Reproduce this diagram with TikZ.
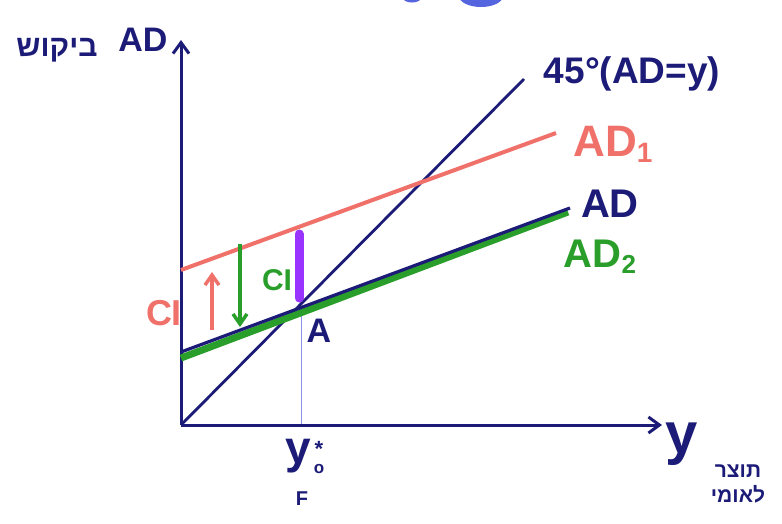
\documentclass[tikz,border=0pt]{standalone}
\usepackage{fontspec}
\setmainfont{Liberation Sans}
\newfontfamily\hebfont[Script=Hebrew]{Liberation Sans}
\TeXXeTstate=1
\usetikzlibrary{arrows.meta}
\definecolor{navy}{HTML}{1C1C78}
\definecolor{salmon}{HTML}{F0706A}
\definecolor{grn}{HTML}{2A9E2A}
\definecolor{purp}{HTML}{9933FF}
\definecolor{blob}{HTML}{5565E0}
\newcommand{\fsz}[1]{\fontsize{#1}{#1}\selectfont\bfseries}
\begin{document}
\begin{tikzpicture}[x=1pt,y=-1pt,
  axis/.style={navy,line width=3pt,-{Straight Barb[length=11pt,width=16pt]}},
  lbl/.style={inner sep=0pt,anchor=center},
  ciarrow/.style={-{Straight Barb[length=10pt,width=14pt]}}]
\useasboundingbox (0,0) rectangle (782,523);
\fill[white] (0,0) rectangle (782,523);
% partial blobs at top edge
\fill[blob] (412,-2) ellipse (9pt and 4.5pt);
\fill[blob] (481,-4) ellipse (22pt and 11pt);
% coordinates
\coordinate (O) at (181,425);
\coordinate (ytop) at (181,40);
\coordinate (xend) at (662,425);
\coordinate (t45) at (524,79);
\coordinate (ad1a) at (181,270);
\coordinate (ad1b) at (556,133);
\coordinate (ada) at (181,352);
\coordinate (adb) at (570,208);
\coordinate (ad2a) at (181,358);
\coordinate (ad2b) at (568,212);
\coordinate (A) at (301,306);
\coordinate (Afoot) at (301,425);
\coordinate (ptop) at (299,234);
\coordinate (pbot) at (299,298);
% thin drop line
\draw[blob!70,line width=1pt] (A) -- (Afoot);
% axes
\draw[axis] (O) -- (ytop);
\draw[axis] (O) -- (xend);
% lines
\draw[navy,line width=2.8pt] (O) -- (t45);
\draw[salmon,line width=4pt] (ad1a) -- (ad1b);
\draw[grn,line width=7pt] (ad2a) -- (ad2b);
\draw[navy,line width=3.2pt] (ada) -- (adb);
\draw[purp,line width=9pt,line cap=round] (ptop) -- (pbot);
% CI arrows
\coordinate (ru1) at (212,330);
\coordinate (ru2) at (212,272);
\draw[ciarrow,salmon,line width=3.5pt] (ru1) -- (ru2);
\coordinate (gd1) at (240,244);
\coordinate (gd2) at (240,327);
\draw[ciarrow,grn,line width=3.5pt] (gd1) -- (gd2);
% labels
\node[lbl,navy,font=\fsz{34}] (ADax) at (143,40) {AD};
\node[lbl,navy,font=\fsz{30}] (heb1) at (57,50) {\hebfont\bfseries\beginR ביקוש\endR};
\node[lbl,navy,font=\fsz{37}] (l45) at (632,74) {45°(AD=y)};
\node[lbl,salmon,font=\fsz{44}] (lad1) at (613,144) {AD\raisebox{-6pt}{\fsz{28}1}};
\node[lbl,navy,font=\fsz{40}] (lad) at (610,204) {AD};
\node[lbl,grn,font=\fsz{40}] (lad2) at (600,257) {AD\raisebox{-6pt}{\fsz{26}2}};
\node[lbl,navy,font=\fsz{34}] (lA) at (319,331) {A};
\node[lbl,salmon,font=\fsz{36}] (lci1) at (164,313) {CI};
\node[lbl,grn,font=\fsz{30}] (lci2) at (277,280) {CI};
\node[lbl,navy,font=\fsz{58}] (lyax) at (682,444) {y};
\node[lbl,navy,font=\fontsize{21}{23}\selectfont,align=center] (heb2) at (738,484) {\hebfont\bfseries\beginR תוצר\endR\\[2pt]\hebfont\bfseries\beginR לאומי\endR};
\node[lbl,navy,font=\fsz{46}] (ly) at (298,456) {y};
\node[lbl,navy,font=\fsz{22}] (lstar) at (319,449) {*};
\node[lbl,navy,font=\fsz{17}] (lcirc) at (319,469) {o};
\node[lbl,navy,font=\fsz{20}] (lF) at (302,499) {F};
\end{tikzpicture}
\end{document}
